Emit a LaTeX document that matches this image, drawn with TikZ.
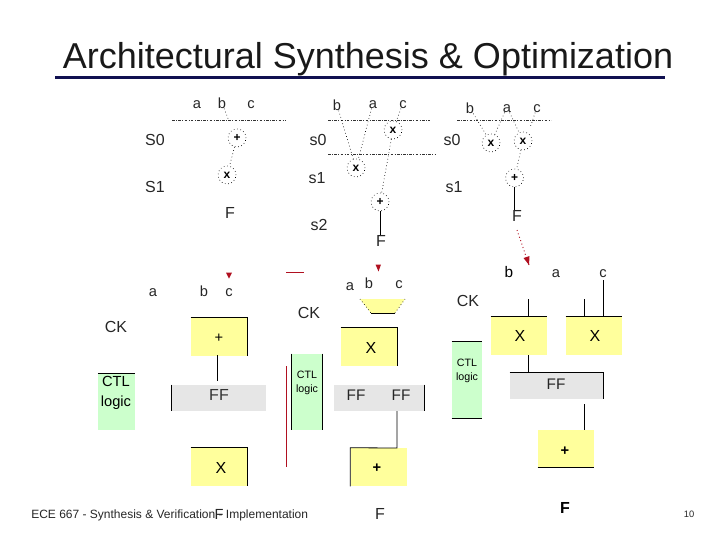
\documentclass[tikz,border=0pt]{standalone}
\usepackage{fontspec}
\setmainfont{Liberation Sans}
\usetikzlibrary{arrows.meta}
\definecolor{byel}{HTML}{FFFF9C}
\definecolor{bgrn}{HTML}{CCFFCC}
\definecolor{bgry}{HTML}{E6E6E6}
\definecolor{bred}{HTML}{B01020}
\definecolor{tnavy}{HTML}{101050}
\tikzset{
 x=0.75pt,y=-0.75pt,
 lab/.style={inner sep=0pt,text height=8pt,text depth=0pt,font=\fontsize{11}{12}\selectfont,text=black!85},
 slab/.style={inner sep=0pt,text height=8.6pt,text depth=0pt,font=\fontsize{12}{14}\selectfont,text=black!85},
 opc/.style={circle,draw=black,dotted,line width=0.5pt,minimum size=13.5pt,inner sep=0pt,font=\fontsize{9}{10}\selectfont\bfseries},
 dots/.style={draw=black,dotted,line width=0.5pt},
 sched/.style={draw=black!80,line width=0.5pt,dash pattern=on 2pt off 1pt on 0.7pt off 1pt},
 solidl/.style={draw=black,line width=0.6pt},
 ybox/.style={fill=byel,minimum width=42pt,minimum height=28.5pt,inner sep=0pt},
 gbox/.style={fill=bgry,inner sep=0pt,minimum height=19.5pt},
 cbox/.style={fill=bgrn,inner sep=0pt,minimum width=22.5pt,minimum height=57pt},
 ctl/.style={inner sep=0pt,align=center,font=\fontsize{8}{10.5}\selectfont},
 redl/.style={draw=bred,line width=0.7pt},
 redhead/.style={fill=bred,draw=none},
}
\begin{document}
\begin{tikzpicture}
\useasboundingbox (0,0) rectangle (720,540);
% title
\node[inner sep=0pt,text=black!90,font=\fontsize{27}{30}\selectfont] (title) at (368,59) {Architectural Synthesis \& Optimization};
\coordinate (tl) at (55,77.5); \coordinate (tr) at (665,77.5);
\draw[draw=tnavy,line width=2.3pt] (tl) -- (tr);

% --- schedule 1
\node[lab] (a1) at (197,103) {a};
\node[lab] (b1) at (222,103) {b};
\node[lab] (c1) at (251,103) {c};
\coordinate (l1a) at (172,120); \coordinate (l1b) at (286,120);
\draw[sched] (l1a) -- (l1b);
\node[opc] (p1) at (237,138) {+};
\node[opc] (x1) at (227,175) {x};
\node[slab] (S0) at (155,140) {S0};
\node[slab] (S1) at (155,187) {S1};
\node[slab] (F1) at (230,213) {F};
\coordinate (t1) at (229,121);
\draw[dots] (b1) -- (t1);
\draw[dots] (p1) -- (x1);

% --- schedule 2
\node[lab] (b2) at (337,105) {b};
\node[lab] (a2) at (373,103) {a};
\node[lab] (c2) at (403,103) {c};
\coordinate (l2a) at (328,120); \coordinate (l2b) at (430,120);
\coordinate (l2c) at (328,154); \coordinate (l2d) at (436,154);
\draw[sched] (l2a) -- (l2b);
\draw[sched] (l2c) -- (l2d);
\node[opc] (x2) at (393,130) {x};
\node[opc] (x3) at (356,168) {x};
\node[opc] (p2) at (380,202) {+};
\node[slab] (s02) at (318,140) {s0};
\node[slab] (s12) at (317,178) {s1};
\node[slab] (s22) at (319,225) {s2};
\node[slab] (F2) at (381,241) {F};
\draw[dots] (b2) -- (x3);
\draw[dots] (a2) -- (x3);
\draw[dots] (c2) -- (x2);
\draw[dots] (x2) -- (p2);
\draw[solidl] (p2.south) -- (p2.south |- F2.north);

% --- schedule 3
\node[lab] (b3) at (470,108) {b};
\node[lab] (a3) at (507,107) {a};
\node[lab] (c3) at (537,107) {c};
\coordinate (l3a) at (457,120); \coordinate (l3b) at (551,120);
\draw[sched] (l3a) -- (l3b);
\node[opc] (x4) at (491,143) {x};
\node[opc] (x5) at (523,141) {x};
\node[opc] (p3) at (514.5,178) {+};
\node[slab] (s03) at (452,140) {s0};
\node[slab] (s13) at (454,187) {s1};
\node[slab] (F3) at (517,216) {F};
\draw[dots] (b3) -- (x4);
\draw[dots] (a3) -- (x4);
\draw[dots] (a3) -- (x5);
\coordinate (c3t) at (530,128);
\draw[dots] (c3) -- (c3t);
\draw[dots] (x5) -- (p3);
\draw[solidl] (p3.south) -- (p3.south |- F3.north);
\coordinate (rtip) at (529,265);
\draw[redl,dotted] (F3) ++(0,14) -- (rtip);
\fill[redhead] (529,265) -- (523.5,258) -- (529.5,256) -- cycle;

% --- bottom 1
\node[lab] (a4) at (153,291) {a};
\node[lab] (b4) at (204,291) {b};
\node[lab] (c4) at (229,291) {c};
\node[slab] (ck1) at (116,327) {CK};
\node[ybox] (add1) at (219,336.5) {};
\node[inner sep=0pt,font=\fontsize{11}{13}\selectfont] (add1t) at (219,338) {+};
\draw[solidl] (add1.north west) -- (add1.north east) -- (add1.south east);
\node[gbox,minimum width=70.5pt] (ff1) at (219,398) {};
\node[inner sep=0pt,font=\fontsize{12}{14}\selectfont,text=black!80] (ff1t) at (219,395) {FF};
\draw[solidl] (ff1.north west) -- (ff1.south west);
\coordinate (e1a) at (217,355); \coordinate (e1b) at (217,381);
\draw[solidl] (e1a) -- (e1b);
\node[ybox] (mul1) at (219,467) {};
\node[inner sep=0pt,font=\fontsize{12}{14}\selectfont] (mul1t) at (221,468) {X};
\draw[solidl] (mul1.north west) -- (mul1.north east) -- (mul1.south east);
\node[cbox,minimum width=27.5pt,minimum height=42.5pt] (ctl1) at (116.5,401.5) {};
\node[ctl,font=\fontsize{11}{15}\selectfont] (ctl1t) at (116,393) {CTL\\logic};
\draw[solidl] (ctl1.north west) -- (ctl1.north east);
\fill[redhead] (229,278.5) -- (226,272.5) -- (232,272.5) -- cycle;
\coordinate (r1a) at (286,272); \coordinate (r1b) at (304,272);
\draw[redl] (r1a) -- (r1b);
\coordinate (r2a) at (286.5,366); \coordinate (r2b) at (286.5,467);
\draw[redl] (r2a) -- (r2b);

% --- bottom 2
\node[slab] (ck2) at (309,313) {CK};
\node[cbox] (ctl2) at (307,392) {};
\node[ctl] (ctl2t) at (307,383) {CTL\\logic};
\draw[solidl] (ctl2.north west) -- (ctl2.south west) (ctl2.north east) -- (ctl2.south east);
\node[lab] (a5) at (350,285) {a};
\node[lab] (b5) at (369,283) {b};
\node[lab] (c5) at (399,283) {c};
\fill[redhead] (378.5,271.5) -- (375.5,264.5) -- (381,264.5) -- cycle;
\fill[byel] (360,299) -- (405,299) -- (395,313) -- (371,313) -- cycle;
\coordinate (tz1) at (360,299); \coordinate (tz2) at (371,313); \coordinate (tz3) at (395,313); \coordinate (tz4) at (405,299);
\draw[dots] (tz1) -- (tz2) (tz3) -- (tz4);
\draw[solidl] (tz2) -- (tz3);
\node[ybox] (mul2) at (369,347) {};
\node[inner sep=0pt,font=\fontsize{12}{14}\selectfont] (mul2t) at (371,348) {X};
\draw[solidl] (mul2.north west) -- (mul2.north east) -- (mul2.south east);
\node[gbox,minimum width=67.5pt] (ff2) at (379,398) {};
\node[inner sep=0pt,font=\fontsize{11.5}{14}\selectfont,text=black!85] (ff2a) at (356,395) {FF};
\node[inner sep=0pt,font=\fontsize{11.5}{14}\selectfont,text=black!85] (ff2b) at (401,395) {FF};
\draw[solidl] (ff2.north east) -- (ff2.south east);
\node[ybox] (add2) at (378.5,467) {};
\node[inner sep=0pt,font=\fontsize{11}{13}\selectfont\bfseries] (add2t) at (377,468) {+};
\coordinate (e2a) at (397,411); \coordinate (e2b) at (397,448);
\draw[solidl] (add2.south west) -- (add2.north west) -- (e2b) -- (e2a);
\node[slab] (F5) at (380,514) {F};

% --- bottom 3
\node[lab,font=\fontsize{11.5}{14}\selectfont,text=black] (b6) at (509,272) {b};
\node[lab] (a6) at (556,272) {a};
\node[lab] (c6) at (603,272) {c};
\node[slab] (ck3) at (468,301) {CK};
\node[cbox] (ctl3) at (467,380) {};
\node[ctl] (ctl3t) at (467,371) {CTL\\logic};
\draw[solidl] (ctl3.north west) -- (ctl3.north east) (ctl3.south west) -- (ctl3.south east);
\node[ybox] (mul3) at (519,336) {};
\node[inner sep=0pt,font=\fontsize{12}{14}\selectfont] (mul3t) at (520,336) {X};
\draw[solidl] (mul3.north west) -- (mul3.north east);
\node[ybox] (mul4) at (594,336) {};
\node[inner sep=0pt,font=\fontsize{12}{14}\selectfont] (mul4t) at (595,336) {X};
\draw[solidl] (mul4.north west) -- (mul4.north east);
\coordinate (e3a) at (528,299); \coordinate (e3b) at (528,317);
\coordinate (e3c) at (584,299); \coordinate (e3d) at (584,317);
\coordinate (e3e) at (603,280); \coordinate (e3f) at (603,317);
\coordinate (e3g) at (528,355); \coordinate (e3h) at (528,373);
\coordinate (e3i) at (584,404); \coordinate (e3j) at (584,430);
\draw[solidl] (e3a) -- (e3b);
\draw[solidl] (e3c) -- (e3d);
\draw[solidl] (e3e) -- (e3f);
\draw[solidl] (e3g) -- (e3h);
\node[gbox,minimum width=70pt] (ff3) at (556.5,386) {};
\node[inner sep=0pt,font=\fontsize{11.5}{14}\selectfont,text=black!85] (ff3t) at (556,384) {FF};
\draw[solidl] (ff3.north west) -- (ff3.north east) -- (ff3.south east);
\draw[solidl] (e3i) -- (e3j);
\node[ybox] (add3) at (566,448.5) {};
\node[inner sep=0pt,font=\fontsize{11}{13}\selectfont\bfseries] (add3t) at (565,451) {+};
\draw[solidl] (add3.south west) -- (add3.south east);
\node[inner sep=0pt,font=\fontsize{12}{14}\selectfont\bfseries] (F6) at (565,508) {F};

% footer
\node[inner sep=0pt,anchor=west,font=\fontsize{9}{10}\selectfont,text=black!85] (foot) at (31,515) {ECE 667 - Synthesis \& Verification - Implementation};
\node[lab] (F4) at (219,514) {F};
\node[inner sep=0pt,font=\fontsize{7}{9}\selectfont,text=black!85] (pg) at (689,514) {10};
\end{tikzpicture}
\end{document}
